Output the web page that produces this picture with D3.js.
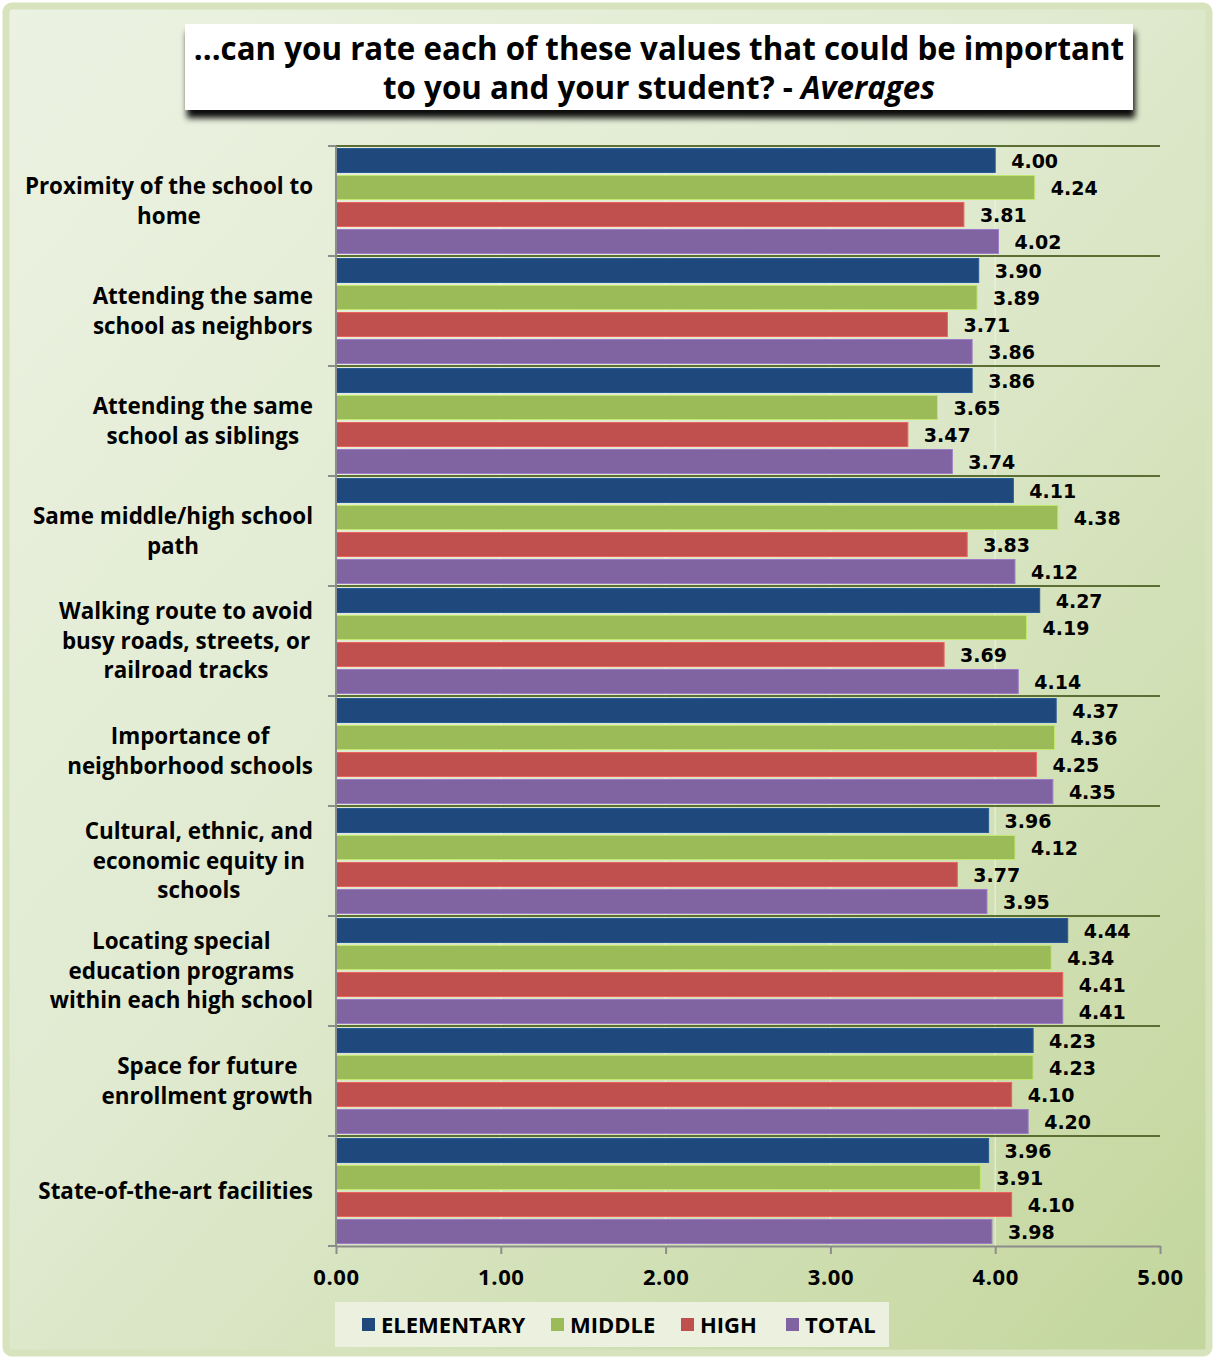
<!DOCTYPE html>
<html lang="en">
<head>
<meta charset="UTF-8">
<title>Values rating - Averages</title>
<script src="https://d3js.org/d3.v7.min.js"></script>
<style>
    body { margin: 0; background: #fff; }
    svg { display: block; }
    text { font-family: "Open Sans", "DejaVu Sans", sans-serif; font-weight: 700; fill: #000; }
    text.val { font-family: "DejaVu Sans", sans-serif; }
</style>
</head>
<body>
<svg id="chart" width="1215" height="1359"></svg>
<script>
    // data
    const categories = [
        "Proximity of the school to\nhome",
        "Attending the same\nschool as neighbors",
        "Attending the same\nschool as siblings",
        "Same middle/high school\npath",
        "Walking route to avoid\nbusy roads, streets, or\nrailroad tracks",
        "Importance of\nneighborhood schools",
        "Cultural, ethnic, and\neconomic equity in\nschools",
        "Locating special\neducation programs\nwithin each high school",
        "Space for future\nenrollment growth",
        "State-of-the-art facilities"
    ];
    const seriesNames = ["ELEMENTARY", "MIDDLE", "HIGH", "TOTAL"];
    const elementary = [4.00, 3.90, 3.86, 4.11, 4.27, 4.37, 3.96, 4.44, 4.23, 3.96];
    const middle     = [4.24, 3.89, 3.65, 4.38, 4.19, 4.36, 4.12, 4.34, 4.23, 3.91];
    const high       = [3.81, 3.71, 3.47, 3.83, 3.69, 4.25, 3.77, 4.41, 4.10, 4.10];
    const total      = [4.02, 3.86, 3.74, 4.12, 4.14, 4.35, 3.95, 4.41, 4.20, 3.98];
    const colors = ["#1f497d", "#9bbb59", "#c0504d", "#8064a2"];
    const xTicks = [0, 1, 2, 3, 4, 5];

    const series = [elementary, middle, high, total];
    const rows = categories.map((c, i) => ({ cat: c, vals: series.map(s => s[i]) }));

    const W = 1215, H = 1359;
    const svg = d3.select("#chart");
    const defs = svg.append("defs");

    const bg = defs.append("linearGradient").attr("id", "bg")
        .attr("x1", "0").attr("y1", "0").attr("x2", "1").attr("y2", "1");
    bg.append("stop").attr("offset", "0%").attr("stop-color", "#ecf2e2");
    bg.append("stop").attr("offset", "45%").attr("stop-color", "#e0ead0");
    bg.append("stop").attr("offset", "100%").attr("stop-color", "#c3d69c");

    const shadow = defs.append("filter").attr("id", "shadow")
        .attr("x", "-5%").attr("y", "-20%").attr("width", "110%").attr("height", "160%");
    shadow.append("feDropShadow").attr("dx", 2).attr("dy", 8).attr("stdDeviation", 3)
        .attr("flood-color", "#000").attr("flood-opacity", 0.95);

    // frame
    svg.append("rect").attr("x", 6).attr("y", 6).attr("width", W - 12).attr("height", H - 12)
        .attr("rx", 6).attr("fill", "url(#bg)")
        .attr("stroke", "#d6e3bd").attr("stroke-width", 7);

    // title box
    svg.append("rect").attr("x", 185).attr("y", 24).attr("width", 948).attr("height", 86)
        .attr("fill", "#fff").attr("filter", "url(#shadow)");
    const title = svg.append("text").attr("text-anchor", "middle").attr("font-size", 31.3);
    title.append("tspan").attr("x", 659).attr("y", 60)
        .text("...can you rate each of these values that could be important");
    const t2 = title.append("tspan").attr("x", 659).attr("y", 99);
    t2.append("tspan").text("to you and your student? - ");
    t2.append("tspan").attr("font-style", "italic").text("Averages");

    // scales
    const x = d3.scaleLinear().domain([0, 5]).range([336, 1160]);
    const y = d3.scaleBand().domain(categories).range([146, 1246]).padding(0);
    const ySub = d3.scaleBand().domain(d3.range(4)).range([0, y.bandwidth()])
        .paddingInner(0.111).paddingOuter(0.093);

    // vertical gridlines
    svg.append("g").selectAll("line").data(xTicks.slice(1, -1)).join("line")
        .attr("x1", d => x(d)).attr("x2", d => x(d))
        .attr("y1", 146).attr("y2", 1246)
        .attr("stroke", "#f2f6ea").attr("stroke-opacity", 0.6).attr("stroke-width", 1.5);

    // bars
    const groups = svg.append("g").selectAll("g").data(rows).join("g")
        .attr("transform", d => `translate(0,${y(d.cat)})`);

    groups.selectAll("rect").data(d => d.vals).join("rect")
        .attr("x", x(0))
        .attr("y", (d, i) => ySub(i))
        .attr("width", d => x(d) - x(0))
        .attr("height", ySub.bandwidth())
        .attr("fill", (d, i) => colors[i])
        .attr("stroke", (d, i) => d3.color(colors[i]).brighter(0.6))
        .attr("stroke-width", 1);

    groups.selectAll("text.val").data(d => d.vals).join("text")
        .attr("class", "val")
        .attr("x", d => x(d) + 16)
        .attr("y", (d, i) => ySub(i) + ySub.bandwidth() / 2 + 1)
        .attr("dy", "0.36em")
        .attr("font-size", 19)
        .text(d => d.toFixed(2));

    // group separators
    svg.append("g").selectAll("line").data(categories).join("line")
        .attr("x1", x(0)).attr("x2", x(5))
        .attr("y1", d => y(d)).attr("y2", d => y(d))
        .attr("stroke", "#5b6e34").attr("stroke-width", 2);

    // left axis
    const yAxis = svg.append("g");
    yAxis.append("line").attr("x1", x(0)).attr("x2", x(0)).attr("y1", 146).attr("y2", 1246)
        .attr("stroke", "#8c8c8c").attr("stroke-width", 2);
    yAxis.selectAll("line.tick").data(categories.concat(["end"])).join("line")
        .attr("class", "tick")
        .attr("x1", x(0) - 8).attr("x2", x(0))
        .attr("y1", d => d === "end" ? 1246 : y(d)).attr("y2", d => d === "end" ? 1246 : y(d))
        .attr("stroke", "#8c8c8c").attr("stroke-width", 2);

    // category labels: centered lines, block right-aligned to the axis
    const lineH = 29.5;
    categories.forEach(c => {
        const lines = c.split("\n");
        const g = svg.append("g");
        const cy = y(c) + y.bandwidth() / 2;
        const texts = lines.map((l, k) => g.append("text")
            .attr("font-size", 22.4)
            .attr("text-anchor", "middle")
            .attr("y", cy + (k - (lines.length - 1) / 2) * lineH)
            .attr("dy", "0.35em")
            .text(l));
        const maxW = d3.max(texts, t => t.node().getComputedTextLength());
        texts.forEach(t => t.attr("x", 313 - maxW / 2));
    });

    // bottom axis
    const xAxis = svg.append("g").attr("transform", "translate(0,1246)")
        .call(d3.axisBottom(x).tickValues(xTicks).tickFormat(d3.format(".2f")).tickSize(8).tickSizeOuter(0));
    xAxis.select(".domain").attr("stroke", "#8c8c8c").attr("stroke-width", 2);
    xAxis.selectAll(".tick line").attr("stroke", "#8c8c8c").attr("stroke-width", 2);
    xAxis.selectAll(".tick text").attr("font-size", 22).attr("font-family", null)
        .attr("letter-spacing", 0.6)
        .attr("y", 23).attr("dy", "0.71em");

    // legend
    svg.append("rect").attr("x", 335).attr("y", 1302).attr("width", 554).attr("height", 45)
        .attr("fill", "#ebf0df");
    const legendX = [362, 551, 681, 786];
    const legend = svg.append("g").selectAll("g").data(seriesNames).join("g")
        .attr("transform", (d, i) => `translate(${legendX[i]},1325)`);
    legend.append("rect").attr("x", 0).attr("y", -7).attr("width", 13).attr("height", 13)
        .attr("fill", (d, i) => colors[i]);
    legend.append("text").attr("x", 19).attr("dy", "0.35em").attr("font-size", 22).text(d => d);
</script>
</body>
</html>
